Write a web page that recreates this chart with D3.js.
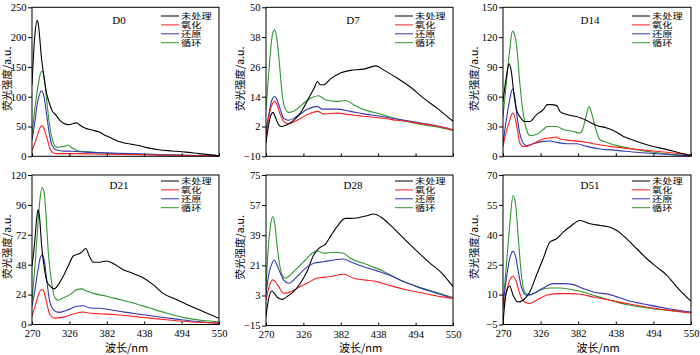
<!DOCTYPE html>
<html><head><meta charset="utf-8">
<script src="https://cdn.jsdelivr.net/npm/d3@7"></script>
<style>body{margin:0;background:#fff}svg{display:block}</style>
</head><body><svg id="c" width="700" height="355"></svg>
<script>
const seriesNames = ["未处理", "氧化", "还原", "循环"];
const panelNames = ["D0", "D7", "D14", "D21", "D28", "D51"];
const xTicks = [270, 326, 382, 438, 494, 550];
const yTicksD0 = [0, 50, 100, 150, 200, 250];
const yTicksD7 = [-10, 2, 14, 26, 38, 50];
const yTicksD14 = [0, 30, 60, 90, 120, 150];
const yTicksD21 = [0, 24, 48, 72, 96, 120];
const yTicksD28 = [-15, 3, 21, 39, 57, 75];
const yTicksD51 = [-5, 10, 25, 40, 55, 70];

// D0 : [wavelength nm, intensity]
const d0Untreated = [[270,120],[274,200],[278,228],[280,217],[284,167],[288,133],[292,105],[296,89],[300,77],[306,69],[312,60],[320,54],[326,53],[332,55],[337,56],[342,52],[350,47],[360,44],[370,41],[380,35],[390,30],[400,25],[410,22],[420,20],[430,18],[440,15],[460,11],[480,9],[500,7],[520,4.5],[550,1]];
const d0Oxidized = [[270,10],[274,21],[278,35],[282,48],[285,51],[288,46],[292,32],[296,16],[300,7],[306,4.5],[320,4.5],[340,4.5],[380,3.4],[450,2.2],[550,0.5]];
const d0Reduced = [[270,27],[274,55],[278,89],[282,106],[284,110],[288,100],[292,69],[296,38],[300,18],[306,11],[315,9],[330,8.4],[350,7],[400,5],[450,3.4],[500,1.7],[550,0.5]];
const d0Cycled = [[270,35],[274,77],[278,111],[282,136],[285,143],[288,133],[292,94],[296,55],[300,30],[304,18],[308,15],[314,16],[320,17],[324,18.5],[330,14],[340,9],[360,7],[380,5.6],[400,4.5],[440,3],[500,1.7],[550,0.5]];

// D7
const d7Untreated = [[270,-4.6],[274,2.7],[277.5,6.7],[280.5,7.7],[284.5,5.4],[289,2.7],[294,2],[301.4,2.7],[311.4,4.5],[321.4,7.4],[331.4,12.1],[341.4,17.1],[347.3,20.1],[351.3,18.8],[356.3,18.8],[366.3,21.1],[381.3,23.5],[396.2,24.6],[416.2,25.1],[434.7,26.4],[446.1,24.8],[466.1,21.5],[486.1,17.9],[506,13.4],[526,9.4],[550,4.1]];
const d7Oxidized = [[270,-2],[274,5.4],[279,10.8],[283,12.1],[286.5,10.8],[291.5,6.7],[296.4,4.1],[304,3.1],[316.4,4.5],[331.4,6.7],[347.3,8.1],[356.3,7.1],[376.3,7.4],[396.2,6.7],[416.2,6.1],[441.2,5.4],[466.1,4.5],[496,3.4],[526,2.1],[550,0.7]];
const d7Reduced = [[270,-0.6],[274,6.7],[279,12.8],[283,14.1],[286.5,12.8],[291.5,8.8],[296.4,5.4],[304,4.5],[316.4,6.1],[331.4,8.8],[347.3,10.1],[353.8,9],[376.3,9],[396.2,8.1],[416.2,7.1],[441.2,6.1],[466.1,5],[496,3.7],[526,2.3],[550,0.7]];
const d7Cycled = [[270,8.8],[273,19.5],[276.5,31.5],[280,39.6],[283,40.9],[286.5,36.9],[290.5,26.2],[294,15.5],[297.4,10.1],[304,7.7],[311.4,8.1],[323.9,10.8],[336.4,13.4],[348.8,14.4],[358.8,12.8],[376.3,12.1],[388.8,12.5],[401.2,10.8],[416.2,8.8],[436.2,7.4],[466.1,5],[496,3.1],[526,1.8],[550,0.4]];

// D14
const d14Untreated = [[270,55],[275,80],[279,93],[282.5,85],[286,64],[290,47],[295,40],[302.4,35],[310,35],[320,42],[330,47],[336,52],[342,52],[350,51],[355,45],[364.7,42],[379.6,40],[394.6,36],[409.5,31],[424.5,28.5],[434.4,26],[449.4,20],[469.3,15],[489.2,10.7],[514.1,6.7],[534,3.3],[550,0.7]];
const d14Oxidized = [[270,10],[275,25],[280,36],[284,43.5],[287.4,40],[291,28.5],[295,13.4],[300,10],[305,10],[314.8,12.7],[329.8,17.4],[339.8,18.4],[349.7,19.4],[354.7,17.4],[369.7,16],[384.6,15],[404.5,12.7],[429.4,10],[454.3,8],[484.2,6],[514.1,4],[550,1.3]];
const d14Reduced = [[270,13],[275,37],[280,57],[284,67.6],[287.4,60],[291,40],[295,23],[300,13.4],[305,10.7],[314.8,12.7],[329.8,15],[339.8,15.4],[349.7,14],[364.7,12.7],[379.6,12.7],[394.6,10],[414.5,7.4],[439.4,6],[469.3,4],[504.2,2.3],[550,0.7]];
const d14Cycled = [[270,40],[275,74],[280,107],[284,126],[287.4,122],[291,107],[295,74],[300,43.5],[305,27],[310,21],[320,22],[330,27],[336,30],[350,30],[359.7,27],[374.6,25],[384.6,23.4],[388.6,27],[393.6,40],[398,50],[402,43.5],[407,30],[414.5,16.7],[424.5,14],[444.4,10],[469.3,6.7],[494.2,4],[524,1.7],[550,0.7]];

// D21
const d21Untreated = [[270,47],[273.5,63],[277,85],[279,92],[281,87.6],[284.5,63],[288,47],[292,35],[297,31],[303,28.6],[309.4,32],[317,39],[324.3,47],[331.8,55],[339.3,56.5],[344.2,58],[350.7,61],[355.7,55],[361.7,50],[371.7,50],[381.6,51],[391.6,49],[406.5,44],[421.5,41],[436.4,37.6],[451.4,32],[466.3,25],[486.2,20],[506.2,15],[526.1,10.5],[550,5]];
const d21Oxidized = [[270,6.5],[274.5,14.6],[279,22.7],[283,27.6],[285.5,28],[288.5,25.4],[292,17.3],[297,7.8],[304.4,5.1],[317,5.9],[331.8,8.4],[346.7,10],[354.2,9.2],[371.7,8.6],[396.6,7.8],[421.5,6.5],[446.4,5.1],[471.3,3.8],[501.2,2.4],[550,1.1]];
const d21Reduced = [[270,14.6],[274.5,28],[279,44],[283,54.6],[285.5,55.7],[288.5,51],[292,36],[296,20],[302,12],[309.4,9.7],[322,11.4],[337,14.6],[346.7,15.1],[356.7,13.2],[371.7,13],[391.6,11.4],[411.5,9.7],[436.4,7.8],[461.3,6],[486.2,4.3],[516.1,2.4],[550,1.1]];
const d21Cycled = [[270,20],[274.5,47],[278,74],[282,101],[285,110],[288,106.5],[291,87.6],[294.4,58],[299.4,33.5],[304.4,21.4],[309.4,19.5],[317,21.4],[327,24],[337,28],[344.2,28.6],[351.7,26.8],[361.7,25],[381.6,22.7],[401.5,20],[421.5,17.3],[446.4,13.2],[471.3,9.2],[501.2,5.1],[526.1,3.2],[550,2.2]];

// D28
const d28Untreated = [[270,-9.6],[274,1.3],[279,5.7],[284,3.3],[289,1.3],[294,0.7],[301.4,2.3],[311.4,5.3],[321.4,10.3],[331.4,17.3],[341.4,27.2],[350.3,31.6],[358.8,33.6],[366.3,38.2],[376.3,44.1],[388.8,49.1],[396.2,49.1],[408.7,49.5],[421.2,50.7],[431.2,51.7],[441.2,50.1],[456.2,45.1],[471.1,39.2],[486.1,33.2],[501.1,27.6],[516,22.2],[531,17.3],[550,8.3]];
const d28Oxidized = [[270,0.3],[274,7.3],[280,12.3],[284,11.3],[289,8.3],[296.4,4.3],[304,4.7],[316.4,7.3],[331.4,10.3],[346.3,13.3],[366.3,14.3],[386.3,15.7],[401.2,13.3],[416.2,12.3],[436.2,11.3],[456.2,8.9],[481.1,6.3],[506,4.3],[531,2.3],[550,1.3]];
const d28Reduced = [[270,3.3],[274,15.3],[279,22.2],[282.5,24.2],[286.5,21.2],[291.5,16.3],[296.4,12.3],[304,10.3],[316.4,14.3],[328.9,19.2],[341.4,22.2],[356.3,23.2],[371.3,24.2],[386.3,24.8],[396.2,23.2],[416.2,20.2],[436.2,17.7],[456.2,14.9],[476.1,11.3],[496,8.3],[521,4.9],[550,1.3]];
const d28Cycled = [[270,7.3],[273,29.2],[276.5,44.1],[280,50.1],[283,46.1],[286.5,33.2],[290.5,21.2],[294,15.3],[299,13.3],[306.4,15.3],[316.4,19.2],[328.9,24.2],[338.9,28.2],[347.3,29.6],[356.3,28.2],[371.3,28.8],[386.3,28.2],[396.2,25.2],[416.2,22.2],[436.2,19.2],[456.2,15.3],[476.1,11.3],[496,8.3],[521,5.3],[550,1.7]];

// D51
const d51Untreated = [[270,-4.5],[275,11.3],[280,14.3],[285,9.7],[292.4,6.3],[299.9,7.2],[309.9,11.3],[319.8,19.7],[329.8,28],[339.8,36.3],[349.7,38],[359.7,41.3],[372.1,44.7],[384.6,47.2],[399.6,45.5],[414.5,44.7],[429.4,43.8],[439.4,42.2],[454.3,38],[469.3,33],[484.2,28],[499.2,23.8],[514.1,19.7],[529,13.8],[550,6.7]];
const d51Oxidized = [[270,3],[275,11.3],[280,17.2],[285,19.2],[290,16.3],[294.9,10.5],[302.4,6.3],[309.9,5.5],[319.8,7.2],[334.7,9.7],[349.7,10.5],[369.7,10.5],[384.6,10.2],[404.5,8.8],[429.4,7.2],[454.3,5.5],[484.2,3.8],[514.1,2.2],[550,0.8]];
const d51Reduced = [[270,4.7],[275,18],[280,28],[285,31.7],[289,28.8],[292.9,21.3],[297.4,13.8],[304.9,9.7],[314.8,10.5],[329.8,13.3],[344.7,15.5],[359.7,15.5],[374.6,15],[389.6,13],[404.5,11.3],[429.4,10],[454.3,7.2],[484.2,5],[514.1,3],[550,1.3]];
const d51Cycled = [[270,4.7],[275,24.7],[280,44.7],[285,59.7],[289,54.7],[292.9,38],[297.4,19.7],[302.4,11.3],[309.9,9.7],[324.8,12.2],[339.8,13.3],[354.7,13.3],[369.7,12.7],[384.6,11.7],[404.5,9.7],[429.4,7.2],[454.3,5],[484.2,3.3],[514.1,2.2],[550,1]];

const panelSeries = [
  [d0Untreated, d0Oxidized, d0Reduced, d0Cycled],
  [d7Untreated, d7Oxidized, d7Reduced, d7Cycled],
  [d14Untreated, d14Oxidized, d14Reduced, d14Cycled],
  [d21Untreated, d21Oxidized, d21Reduced, d21Cycled],
  [d28Untreated, d28Oxidized, d28Reduced, d28Cycled],
  [d51Untreated, d51Oxidized, d51Reduced, d51Cycled]
];
const panelYTicks = [yTicksD0, yTicksD7, yTicksD14, yTicksD21, yTicksD28, yTicksD51];

// layout (styling)
const colors = ["#000000", "#ff1e1e", "#3636b4", "#2e962e"];
const colX = [[32, 219], [266, 453], [503, 691]];
const rowY = [[7.3, 156.3], [175, 324.5]];
const titleX = [6, 239, 473];
const serif = "'Liberation Serif','Times New Roman',serif";
const cjk = "'Noto Sans CJK SC','Noto Sans',sans-serif";
const legendFont = "'Liberation Serif','Noto Sans CJK SC',serif";

const svg = d3.select("#c");
const defs = svg.append("defs");

panelNames.forEach((name, i) => {
  const col = i % 3, row = Math.floor(i / 3);
  const [x0, x1] = colX[col];
  let [y0, y1] = rowY[row];
  if (i === 4) y1 = 325.6;
  const yt = panelYTicks[i];
  const x = d3.scaleLinear().domain([270, 550]).range([x0, x1]);
  const y = d3.scaleLinear().domain([yt[0], yt[yt.length - 1]]).range([y1, y0]);
  const g = svg.append("g");

  defs.append("clipPath").attr("id", "clip" + i)
    .append("rect").attr("x", x0).attr("y", y0).attr("width", x1 - x0).attr("height", y1 - y0);

  // lines
  const line = d3.line().x(d => x(d[0])).y(d => y(d[1])).curve(d3.curveMonotoneX);
  const lg = g.append("g").attr("clip-path", `url(#clip${i})`);
  const order = [3, 2, 1, 0];
  order.forEach(s => {
    lg.append("path").datum(panelSeries[i][s])
      .attr("d", line).attr("fill", "none")
      .attr("stroke", colors[s]).attr("stroke-width", 1.1)
      .attr("stroke-linejoin", "round");
  });

  // x axis
  const xa = d3.axisBottom(x).tickValues(xTicks).tickSize(-3).tickPadding(5)
    .tickFormat(row === 1 ? d3.format("d") : () => "");
  const xg = g.append("g").attr("transform", `translate(0,${y1})`).call(xa);
  xg.select(".domain").remove();
  xg.selectAll("line").attr("stroke", "#000");
  xg.selectAll("text").attr("font-family", serif).attr("font-size", 10.5).attr("fill", "#000");

  // y axis
  const ya = d3.axisLeft(y).tickValues(yt).tickSize(4).tickPadding(1.5);
  const yg = g.append("g").attr("transform", `translate(${x0},0)`).call(ya);
  yg.select(".domain").remove();
  yg.selectAll("line").attr("stroke", "#000");
  yg.selectAll("text").attr("font-family", serif).attr("font-size", 10.5).attr("fill", "#000");

  // frame
  g.append("rect").attr("x", x0).attr("y", y0).attr("width", x1 - x0).attr("height", y1 - y0)
    .attr("fill", "none").attr("stroke", "#000").attr("stroke-width", 1);

  // panel label
  g.append("text").attr("x", x0 + 87).attr("y", row === 0 ? 24 : 189)
    .attr("text-anchor", "middle").attr("font-family", serif).attr("font-size", 11)
    .text(name);

  // legend
  const ly = row === 0 ? 16 : 181;
  const step = 8.9;
  seriesNames.forEach((s, k) => {
    const yy = ly + k * step;
    g.append("line").attr("x1", x0 + 129).attr("x2", x0 + 147)
      .attr("y1", yy).attr("y2", yy).attr("stroke", colors[k]).attr("stroke-width", 1);
    g.append("text")
      .attr("transform", `translate(${x0 + 149},${yy + 3.4}) scale(1,0.8)`)
      .attr("font-family", legendFont).attr("font-size", 10)
      .attr("textLength", s.length * 10.2).attr("lengthAdjust", "spacingAndGlyphs")
      .text(s);
  });

  // y title
  const cy = (y0 + y1) / 2 - 3;
  g.append("text").attr("transform", `translate(${titleX[col]},${cy}) rotate(-90)`)
    .attr("text-anchor", "middle").attr("dominant-baseline", "central")
    .attr("font-family", cjk).attr("font-size", 10.5)
    .text("荧光强度/a.u.");

  // x title (bottom row)
  if (row === 1) {
    g.append("text").attr("x", (x0 + x1) / 2 + 1).attr("y", 352)
      .attr("text-anchor", "middle").attr("font-family", cjk).attr("font-size", 11)
      .text("波长/nm");
  }
});
</script></body></html>
